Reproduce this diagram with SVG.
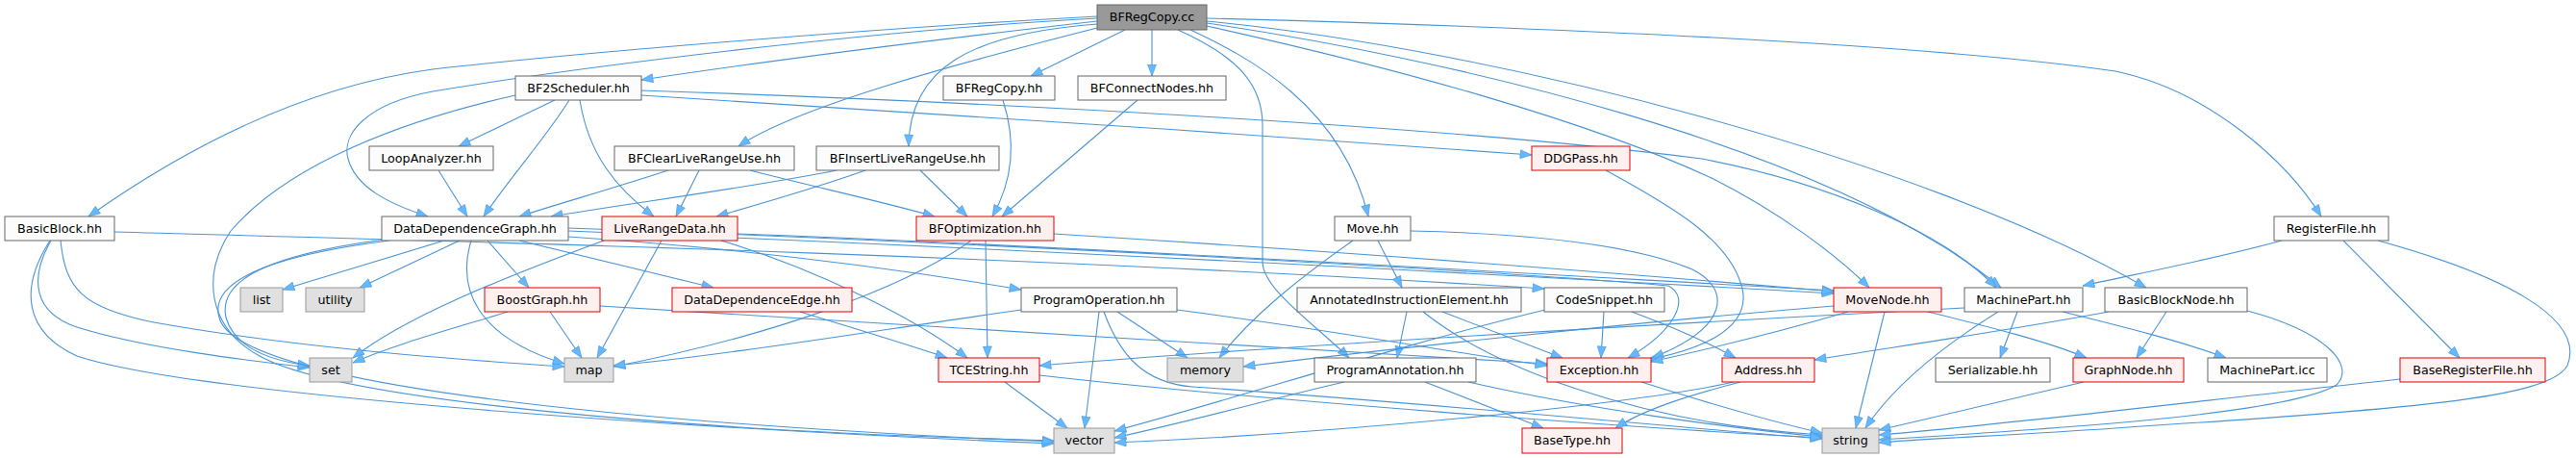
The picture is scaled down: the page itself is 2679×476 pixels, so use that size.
<svg xmlns="http://www.w3.org/2000/svg" width="2679" height="476" viewBox="0 0 2679 476">
<style>
.w rect{fill:#fbfcfb;stroke:#666;stroke-width:1}
.r rect{fill:#fff0f0;stroke:#e00000;stroke-width:1}
.g rect{fill:#e0e0e0;stroke:#999;stroke-width:1}
.root rect{fill:#999;stroke:#666;stroke-width:1}
text{font-family:"DejaVu Sans",sans-serif;font-size:12.7px;text-anchor:middle;fill:#000}
.e path{fill:none;stroke:#4a94d6;stroke-width:1.1;marker-end:url(#a)}
</style>
<defs>
<marker id="a" markerUnits="userSpaceOnUse" markerWidth="13" markerHeight="10" refX="12.5" refY="5" orient="auto">
<path d="M0.5,0.5 L12.5,5 L0.5,9.5 z" fill="#63b8ff" stroke="#4a94d6" stroke-width="0.6"/>
</marker>
</defs>
<rect width="2679" height="476" fill="#fff"/>
<g id="edges" class="e">
<path d="M1141,17 C900,30 600,55 450,72 C300,92 170,170 92,225"/>
<path d="M1141,22 C1000,38 820,60 667,83"/>
<path d="M1170,31 L1072,79"/>
<path d="M1198,31 L1198,79"/>
<path d="M1141,29 C1000,65 830,110 768,152"/>
<path d="M1141,19 C900,32 600,70 450,95 C380,108 355,140 362,165 C370,195 405,212 445,225"/>
<path d="M1141,25 C1010,35 946,70 945,152"/>
<path d="M1238,31 C1300,60 1395,110 1423,225"/>
<path d="M1225,31 C1290,60 1313,90 1313,130 L1313,272 C1313,300 1365,335 1403,372"/>
<path d="M1255,19 C1600,28 2000,45 2200,74 C2300,95 2380,170 2414,225"/>
<path d="M1255,27 C1450,70 1650,125 1780,185 C1850,220 1910,265 1944,299"/>
<path d="M1255,24 C1500,60 1900,150 2081,299"/>
<path d="M1255,22 C1550,50 2000,165 2232,299"/>
<path d="M577,104 L477,152"/>
<path d="M592,104 C570,140 530,185 503,225"/>
<path d="M603,104 C612,160 640,195 680,225"/>
<path d="M667,99 C900,112 1300,140 1593,161"/>
<path d="M667,94 C1000,105 1500,130 1770,165 C1900,190 2020,240 2076,299"/>
<path d="M536,99 C420,125 300,170 240,240 C210,285 215,340 270,370 C350,415 700,448 1096,458"/>
<path d="M456,177 L486,225"/>
<path d="M695,177 C640,195 580,212 540,225"/>
<path d="M727,177 L703,225"/>
<path d="M780,177 C850,195 920,210 972,225"/>
<path d="M870,177 C780,195 650,212 573,225"/>
<path d="M900,177 C850,195 790,212 745,225"/>
<path d="M957,177 L1006,225"/>
<path d="M1043,104 C1058,150 1052,190 1032,225"/>
<path d="M1183,104 L1042,225"/>
<path d="M1670,177 C1740,215 1800,250 1812,300 C1822,345 1760,365 1713,374"/>
<path d="M119,241 C400,249 1000,262 1606,300"/>
<path d="M63,250 C68,300 85,320 160,335 C300,360 450,372 587,381"/>
<path d="M53,250 C30,290 35,325 80,340 C150,362 260,375 322,382"/>
<path d="M52,250 C20,300 25,345 80,370 C200,410 700,445 1096,461"/>
<path d="M462,250 L294,301"/>
<path d="M478,250 L374,299"/>
<path d="M507,250 L550,299"/>
<path d="M540,250 L742,299"/>
<path d="M490,250 C475,300 495,350 587,378"/>
<path d="M400,249 C300,262 225,285 235,330 C245,365 290,376 322,380"/>
<path d="M405,250 C310,262 215,285 228,330 C245,400 650,440 1096,459"/>
<path d="M591,246 C800,260 950,282 1062,301"/>
<path d="M591,240 C1000,256 1500,282 1907,305"/>
<path d="M591,237 C1100,255 1600,285 1735,297 C1760,310 1740,345 1693,372"/>
<path d="M688,250 L621,372"/>
<path d="M628,250 C520,290 420,330 367,372"/>
<path d="M750,250 C850,280 950,330 1006,372"/>
<path d="M767,243 C1100,255 1600,285 1907,302"/>
<path d="M1025,250 L1027,372"/>
<path d="M1010,250 C940,300 800,350 638,381"/>
<path d="M1096,243 C1400,262 1700,285 1907,303"/>
<path d="M1433,250 L1458,299"/>
<path d="M1407,250 C1350,290 1300,330 1268,372"/>
<path d="M1467,240 C1600,243 1700,255 1760,280 C1800,300 1800,340 1718,372"/>
<path d="M528,324 C470,342 410,358 367,377"/>
<path d="M572,324 L605,372"/>
<path d="M624,318 C900,335 1300,360 1609,378"/>
<path d="M832,324 C900,345 950,360 985,372"/>
<path d="M1162,324 L1235,372"/>
<path d="M1143,324 L1128,445"/>
<path d="M1148,324 C1165,370 1190,398 1240,402 C1500,420 1750,445 1895,456"/>
<path d="M1062,322 C900,345 750,370 638,380"/>
<path d="M1224,322 C1400,345 1500,365 1609,380"/>
<path d="M1463,324 L1453,372"/>
<path d="M1500,324 L1625,372"/>
<path d="M1480,324 C1550,380 1700,440 1895,452"/>
<path d="M1668,324 L1665,372"/>
<path d="M1697,324 C1740,340 1775,355 1805,372"/>
<path d="M1607,322 C1450,360 1300,410 1159,448"/>
<path d="M1960,324 L1930,445"/>
<path d="M2005,324 C2070,340 2130,355 2170,372"/>
<path d="M1922,324 C1850,345 1780,362 1717,376"/>
<path d="M1907,318 C1700,335 1450,362 1293,381"/>
<path d="M2078,324 C2020,360 1970,400 1940,445"/>
<path d="M2098,324 L2080,372"/>
<path d="M2145,324 C2210,340 2270,355 2315,372"/>
<path d="M2043,320 C1700,338 1300,362 1081,380"/>
<path d="M2253,324 L2222,372"/>
<path d="M2193,324 C2080,345 1960,362 1887,374"/>
<path d="M2337,323 C2420,345 2450,380 2430,400 C2380,430 2150,445 1954,457"/>
<path d="M2373,250 C2300,270 2220,285 2166,297"/>
<path d="M2437,250 L2558,372"/>
<path d="M2473,250 C2600,285 2690,330 2670,380 C2650,415 2500,425 2200,445 C2100,452 2000,456 1954,460"/>
<path d="M1707,397 C1780,420 1850,440 1895,450"/>
<path d="M1482,397 L1605,445"/>
<path d="M1398,397 C1320,415 1250,435 1159,455"/>
<path d="M1527,397 C1650,425 1800,445 1895,454"/>
<path d="M1045,397 L1110,445"/>
<path d="M1081,390 C1300,415 1700,445 1895,455"/>
<path d="M1810,397 C1760,410 1710,425 1680,445"/>
<path d="M1803,397 C1700,420 1400,450 1159,460"/>
<path d="M2167,397 L1954,447"/>
<path d="M2496,394 C2300,415 2100,440 1954,452"/>
</g>
<g id="n_BFRegCopy_cc" class="root"><rect x="1141" y="5" width="114" height="26"/><text x="1198" y="22">BFRegCopy.cc</text></g>
<g id="n_BF2Scheduler" class="w"><rect x="536" y="79" width="131" height="25"/><text x="601.5" y="96">BF2Scheduler.hh</text></g>
<g id="n_BFRegCopy_hh" class="w"><rect x="981" y="79" width="116" height="25"/><text x="1039" y="96">BFRegCopy.hh</text></g>
<g id="n_BFConnectNodes" class="w"><rect x="1121" y="79" width="154" height="25"/><text x="1198" y="96">BFConnectNodes.hh</text></g>
<g id="n_LoopAnalyzer" class="w"><rect x="384" y="152" width="129" height="25"/><text x="448.5" y="169">LoopAnalyzer.hh</text></g>
<g id="n_BFClearLiveRangeUse" class="w"><rect x="639" y="152" width="187" height="25"/><text x="732.5" y="169">BFClearLiveRangeUse.hh</text></g>
<g id="n_BFInsertLiveRangeUse" class="w"><rect x="849" y="152" width="190" height="25"/><text x="944" y="169">BFInsertLiveRangeUse.hh</text></g>
<g id="n_DDGPass" class="r"><rect x="1593" y="152" width="102" height="25"/><text x="1644" y="169">DDGPass.hh</text></g>
<g id="n_BasicBlock" class="w"><rect x="5" y="225" width="114" height="25"/><text x="62" y="242">BasicBlock.hh</text></g>
<g id="n_DataDependenceGraph" class="w"><rect x="397" y="225" width="194" height="25"/><text x="494" y="242">DataDependenceGraph.hh</text></g>
<g id="n_LiveRangeData" class="r"><rect x="626" y="225" width="141" height="25"/><text x="696.5" y="242">LiveRangeData.hh</text></g>
<g id="n_BFOptimization" class="r"><rect x="953" y="225" width="143" height="25"/><text x="1024.5" y="242">BFOptimization.hh</text></g>
<g id="n_Move" class="w"><rect x="1388" y="225" width="79" height="25"/><text x="1427.5" y="242">Move.hh</text></g>
<g id="n_RegisterFile" class="w"><rect x="2365" y="225" width="119" height="25"/><text x="2424.5" y="242">RegisterFile.hh</text></g>
<g id="n_list" class="g"><rect x="250" y="299" width="44" height="25"/><text x="272" y="316">list</text></g>
<g id="n_utility" class="g"><rect x="318" y="299" width="61" height="25"/><text x="348.5" y="316">utility</text></g>
<g id="n_BoostGraph" class="r"><rect x="504" y="299" width="120" height="25"/><text x="564" y="316">BoostGraph.hh</text></g>
<g id="n_DataDependenceEdge" class="r"><rect x="699" y="299" width="187" height="25"/><text x="792.5" y="316">DataDependenceEdge.hh</text></g>
<g id="n_ProgramOperation" class="w"><rect x="1062" y="299" width="162" height="25"/><text x="1143" y="316">ProgramOperation.hh</text></g>
<g id="n_AnnotatedInstructionElement" class="w"><rect x="1349" y="299" width="233" height="25"/><text x="1465.5" y="316">AnnotatedInstructionElement.hh</text></g>
<g id="n_CodeSnippet" class="w"><rect x="1606" y="299" width="125" height="25"/><text x="1668.5" y="316">CodeSnippet.hh</text></g>
<g id="n_MoveNode" class="r"><rect x="1907" y="299" width="112" height="25"/><text x="1963" y="316">MoveNode.hh</text></g>
<g id="n_MachinePart" class="w"><rect x="2043" y="299" width="123" height="25"/><text x="2104.5" y="316">MachinePart.hh</text></g>
<g id="n_BasicBlockNode" class="w"><rect x="2189" y="299" width="148" height="25"/><text x="2263" y="316">BasicBlockNode.hh</text></g>
<g id="n_set" class="g"><rect x="322" y="372" width="44" height="25"/><text x="344" y="389">set</text></g>
<g id="n_map" class="g"><rect x="587" y="372" width="51" height="25"/><text x="612.5" y="389">map</text></g>
<g id="n_TCEString" class="r"><rect x="976" y="372" width="105" height="25"/><text x="1028.5" y="389">TCEString.hh</text></g>
<g id="n_memory" class="g"><rect x="1214" y="372" width="79" height="25"/><text x="1253.5" y="389">memory</text></g>
<g id="n_ProgramAnnotation" class="w"><rect x="1367" y="372" width="168" height="25"/><text x="1451" y="389">ProgramAnnotation.hh</text></g>
<g id="n_Exception" class="r"><rect x="1609" y="372" width="108" height="25"/><text x="1663" y="389">Exception.hh</text></g>
<g id="n_Address" class="r"><rect x="1791" y="372" width="96" height="25"/><text x="1839" y="389">Address.hh</text></g>
<g id="n_Serializable" class="w"><rect x="2013" y="372" width="119" height="25"/><text x="2072.5" y="389">Serializable.hh</text></g>
<g id="n_GraphNode" class="r"><rect x="2156" y="372" width="115" height="25"/><text x="2213.5" y="389">GraphNode.hh</text></g>
<g id="n_MachinePart_icc" class="w"><rect x="2296" y="372" width="124" height="25"/><text x="2358" y="389">MachinePart.icc</text></g>
<g id="n_BaseRegisterFile" class="r"><rect x="2496" y="372" width="151" height="25"/><text x="2571.5" y="389">BaseRegisterFile.hh</text></g>
<g id="n_vector" class="g"><rect x="1096" y="445" width="63" height="26"/><text x="1127.5" y="462">vector</text></g>
<g id="n_BaseType" class="r"><rect x="1583" y="445" width="104" height="26"/><text x="1635" y="462">BaseType.hh</text></g>
<g id="n_string" class="g"><rect x="1895" y="445" width="59" height="26"/><text x="1924.5" y="462">string</text></g>
</svg>
